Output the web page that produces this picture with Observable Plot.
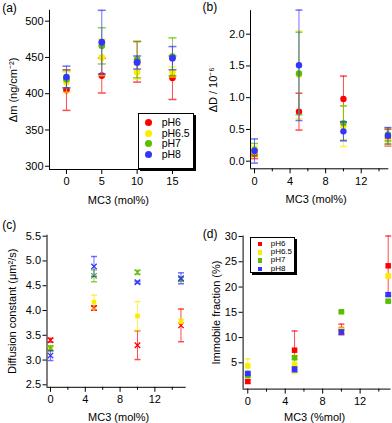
<!DOCTYPE html>
<html><head><meta charset="utf-8">
<script src="https://cdn.jsdelivr.net/npm/d3@7"></script>
<script src="https://cdn.jsdelivr.net/npm/@observablehq/plot@0.6"></script>
<style>
body{margin:0;background:#fff;font-family:"Liberation Sans",Arial,sans-serif;}
#root{position:relative;width:392px;height:423px;overflow:hidden;background:#fff;}
#root svg{position:absolute;}
.legend{position:absolute;box-sizing:border-box;background:#fff;border:1px solid #000;box-shadow:2px 2px 0 #000;}
.entry{position:absolute;color:#000;white-space:nowrap;line-height:1;}
.mk{position:absolute;}
</style></head><body><div id="root"></div>
<script>
const series = ["pH6", "pH6.5", "pH7", "pH8"];
const seriesColors = ["#ff0000", "#fbec00", "#5cbc00", "#3434ff"];
const mc3 = [0, 5, 10, 15];

// (a) Δm (ng/cm^-2)
const massPH6 = [405, 425, 444, 422];
const massPH65 = [416, 450, 430, 430];
const massPH7 = [420, 466, 447, 451];
const massPH8 = [423, 471, 443, 449];
const massErrPH6 = [28, 24, 28, 30];
const massErrPH65 = [14, 25, 10, 7];
const massErrPH7 = [12, 25, 25, 26];
const massErrPH8 = [15, 44, 9, 16];

// (b) ΔD / 10^-6
const dissPH6 = [0.11, 0.78, 0.98, 0.37];
const dissPH65 = [0.15, 1.36, 0.55, 0.32];
const dissPH7 = [0.18, 1.38, 0.60, 0.42];
const dissPH8 = [0.16, 1.51, 0.47, 0.40];
const dissErrPH6 = [0.07, 0.29, 0.36, 0.13];
const dissErrPH65 = [0.09, 0.69, 0.32, 0.07];
const dissErrPH7 = [0.10, 0.65, 0.27, 0.10];
const dissErrPH8 = [0.19, 0.87, 0.15, 0.13];

// (c) Diffusion constant (μm²/s)
const diffPH6 = [3.40, 4.05, 3.30, 3.70];
const diffPH65 = [3.22, 4.17, 3.89, 3.78];
const diffPH7 = [3.24, 4.70, 4.77, 4.63];
const diffPH8 = [3.09, 4.89, 4.57, 4.65];
const diffErrPH6 = [0.04, 0.04, 0.29, 0.33];
const diffErrPH65 = [0.05, 0.14, 0.29, 0.04];
const diffErrPH7 = [0.05, 0.12, 0.04, 0.04];
const diffErrPH8 = [0.10, 0.20, 0.02, 0.11];

// (d) Immobile fraction (%)
const immPH6 = [1.3, 7.5, 11.6, 24.2];
const immPH65 = [4.4, 4.7, 11.4, 22.2];
const immPH7 = [2.5, 6.0, 15.1, 17.2];
const immPH8 = [2.9, 3.7, 11.1, 18.5];
const immErrPH6 = [0.3, 3.8, 1.06, 5.9];
const immErrPH65 = [1.4, 1.8, 0.5, 0.4];
const immErrPH7 = [0.2, 0.3, 0.2, 0.2];
const immErrPH8 = [0.3, 0.5, 0.4, 0.3];

// tick labels
const ticksA_x = [0, 5, 10, 15];
const ticksA_y = [300, 350, 400, 450, 500];
const ticksB_x = [0, 4, 8, 12];
const minorB_x = [2, 6, 10, 14];
const ticksB_y = [0, 0.5, 1, 1.5, 2];
const ticksC_y = [2.5, 3, 3.5, 4, 4.5, 5, 5.5];
const ticksD_y = [5, 10, 15, 20, 25, 30];

const FONT = '"Liberation Sans", Arial, Helvetica, sans-serif';

function buildRows(values, errors) {
  const rows = [];
  series.forEach((s, i) => mc3.forEach((x, j) => {
    const v = values[i][j], e = errors[i][j];
    rows.push({series: s, x, y: v, lo: v - e, hi: v + e});
  }));
  return rows;
}

const capSymbol = {draw(ctx, size) { const w = Math.sqrt(size / Math.PI); ctx.moveTo(-w, 0); ctx.lineTo(w, 0); }};

function makePanel(c) {
  const fs = c.fontSize || 11;
  const marks = [
    Plot.ruleX([c.xDomain[0]], {dx: c.yAxisDx, stroke: "#000"}),
    Plot.ruleY([c.yDomain[0]], {dy: c.xAxisDy, stroke: "#000"}),
    Plot.axisY(c.yTicks, {anchor: "left", tickSize: 4, tickPadding: 2, dx: c.yAxisDx, label: null, tickFormat: c.yFormat, fontSize: fs}),
    Plot.axisX(c.xTicks, {anchor: "bottom", tickSize: 5, tickPadding: 3, dy: c.xAxisDy, label: null, tickFormat: d => String(d), fontSize: fs})
  ];
  if (c.xMinor) marks.push(Plot.axisX(c.xMinor, {anchor: "bottom", tickSize: 3, dy: c.xAxisDy, label: null, tickFormat: () => ""}));
  series.forEach((s) => {
    const data = c.rows.filter(r => r.series === s);
    const sym = c.symbolFor(s);
    const filled = sym !== "times";
    marks.push(Plot.ruleX(data, {x: "x", y1: "lo", y2: "hi", stroke: "series", strokeOpacity: 0.7}));
    marks.push(Plot.dot(data, {x: "x", y: "hi", symbol: capSymbol, r: c.capR, fill: "none", stroke: "series", strokeOpacity: 0.7}));
    marks.push(Plot.dot(data, {x: "x", y: "lo", symbol: capSymbol, r: c.capR, fill: "none", stroke: "series", strokeOpacity: 0.7}));
    marks.push(Plot.dot(data, filled
      ? {x: "x", y: "y", symbol: sym, r: c.r, fill: "series", stroke: "none"}
      : {x: "x", y: "y", symbol: sym, r: c.r, fill: "none", stroke: "series", strokeWidth: 1.3}));
  });
  marks.push(Plot.text([c.xLabel], {text: d => d, frameAnchor: "bottom", textAnchor: "middle", lineAnchor: "middle", dx: c.xLabelDx, dy: c.xLabelDy, fontSize: fs}));
  marks.push(Plot.text([c.yLabel], {text: d => d, frameAnchor: "left", textAnchor: "middle", lineAnchor: "middle", rotate: -90, dx: c.yLabelDx, fontSize: fs}));
  marks.push(Plot.text([c.tag], {text: d => d, frameAnchor: "top-left", textAnchor: "start", lineAnchor: "middle", dx: c.tagDx, dy: c.tagDy, fontSize: 12}));
  const svg = Plot.plot({
    width: c.width, height: c.height,
    marginLeft: c.mL, marginRight: c.mR, marginTop: c.mT, marginBottom: c.mB,
    x: {domain: c.xDomain, label: null},
    y: {domain: c.yDomain, label: null},
    color: {domain: series, range: seriesColors},
    style: {fontFamily: FONT, fontSize: fs + "px", color: "#000", background: "transparent", overflow: "visible"},
    marks
  });
  svg.style.left = c.left + "px";
  svg.style.top = c.top + "px";
  return svg;
}

const root = document.getElementById("root");

root.appendChild(makePanel({
  left: 0, top: 0, width: 196, height: 212,
  mL: 49, mR: 9.2, mT: 9.8, mB: 43,
  xDomain: [-2.4, 17.1], yDomain: [295.5, 515],
  xTicks: ticksA_x, yTicks: ticksA_y, yFormat: d => String(d),
  yAxisDx: 0, xAxisDy: 0,
  rows: buildRows([massPH6, massPH65, massPH7, massPH8], [massErrPH6, massErrPH65, massErrPH7, massErrPH8]),
  symbolFor: () => "circle", r: 3.4, capR: 4,
  xLabel: "MC3 (mol%)", xLabelDx: 0, xLabelDy: 31,
  yLabel: "Δm (ng/cm⁻²)", yLabelDx: -35.7,
  tag: "(a)", tagDx: -47.3, tagDy: -2.3
}));

root.appendChild(makePanel({
  left: 196, top: 0, width: 196, height: 212,
  mL: 54, mR: 3.7, mT: 10.2, mB: 43.7,
  xDomain: [-0.45, 15.1], yDomain: [-0.12, 2.37],
  xTicks: ticksB_x, xMinor: minorB_x, yTicks: ticksB_y, yFormat: d3.format(".1f"),
  yAxisDx: 0, xAxisDy: 0,
  rows: buildRows([dissPH6, dissPH65, dissPH7, dissPH8], [dissErrPH6, dissErrPH65, dissErrPH7, dissErrPH8]),
  symbolFor: () => "circle", r: 3.2, capR: 3.5,
  xLabel: "MC3 (mol%)", xLabelDx: -3.5, xLabelDy: 31,
  yLabel: "ΔD / 10⁻⁶", yLabelDx: -36.7,
  tag: "(b)", tagDx: -48, tagDy: -3.2
}));

root.appendChild(makePanel({
  left: 0, top: 212, width: 196, height: 211,
  mL: 46.5, mR: 10.3, mT: 22.7, mB: 36.2,
  xDomain: [-0.4, 15.6], yDomain: [2.45, 5.52],
  xTicks: ticksB_x, xMinor: minorB_x, yTicks: ticksC_y, yFormat: d3.format(".1f"),
  yAxisDx: 0, xAxisDy: 0,
  rows: buildRows([diffPH6, diffPH65, diffPH7, diffPH8], [diffErrPH6, diffErrPH65, diffErrPH7, diffErrPH8]),
  symbolFor: s => s === "pH6.5" ? "square" : "times", r: 2.6, capR: 3,
  xLabel: "MC3 (mol%)", xLabelDx: 2, xLabelDy: 29.9,
  yLabel: "Diffusion constant (μm²/s)", yLabelDx: -34.8,
  tag: "(c)", tagDx: -44.8, tagDy: -9.7
}));

root.appendChild(makePanel({
  left: 196, top: 212, width: 196, height: 211,
  mL: 46.6, mR: 1.5, mT: 23.5, mB: 34.4,
  xDomain: [-0.5, 15.3], yDomain: [-0.2, 30.1],
  xTicks: ticksB_x, xMinor: minorB_x, yTicks: ticksD_y, yFormat: d => String(d),
  yAxisDx: 0, xAxisDy: 0,
  rows: buildRows([immPH6, immPH65, immPH7, immPH8], [immErrPH6, immErrPH65, immErrPH7, immErrPH8]),
  symbolFor: () => "square", r: 3.1, capR: 3,
  xLabel: "MC3 (%mol)", xLabelDx: -2.5, xLabelDy: 28.4,
  yLabel: "Immobile fraction (%)", yLabelDx: -26.8,
  tag: "(d)", tagDx: -40.3, tagDy: -2.2
}));

function addLegend(box, entries) {
  const div = document.createElement("div");
  div.className = "legend";
  Object.assign(div.style, {left: box.left + "px", top: box.top + "px", width: box.w + "px", height: box.h + "px"});
  root.appendChild(div);
  series.forEach((s, i) => {
    const cy = entries.y0 + i * entries.step;
    const mk = document.createElement("div");
    mk.className = "mk";
    Object.assign(mk.style, {
      left: (entries.mx - entries.ms / 2) + "px", top: (cy - entries.ms / 2) + "px",
      width: entries.ms + "px", height: entries.ms + "px", background: seriesColors[i],
      borderRadius: entries.round ? "50%" : "0"
    });
    root.appendChild(mk);
    const t = document.createElement("div");
    t.className = "entry";
    t.textContent = s;
    Object.assign(t.style, {left: entries.tx + "px", top: (cy - entries.fs * 0.55) + "px", fontSize: entries.fs + "px"});
    root.appendChild(t);
  });
}

addLegend({left: 137.7, top: 112.7, w: 56, h: 56}, {y0: 122.7, step: 10.6, mx: 148.3, ms: 7, round: true, tx: 161.7, fs: 10.5});
addLegend({left: 250, top: 237.3, w: 44.5, h: 35.5}, {y0: 244, step: 8.35, mx: 260, ms: 4.5, round: false, tx: 270.7, fs: 8});
</script></body></html>
